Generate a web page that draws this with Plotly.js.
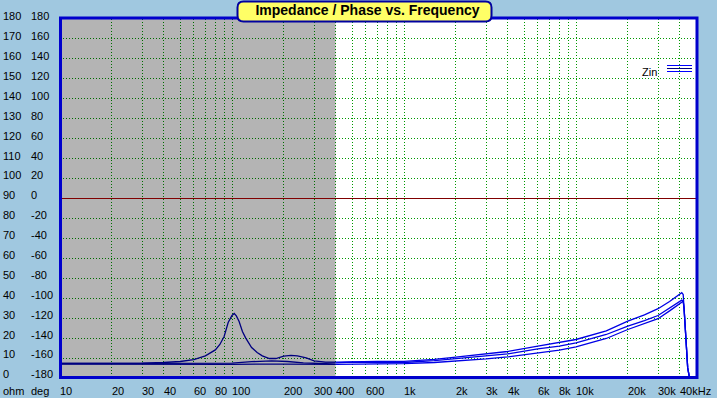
<!DOCTYPE html>
<html>
<head>
<meta charset="utf-8">
<script src="https://cdn.plot.ly/plotly-3.0.1.min.js"></script>
<style>html,body{margin:0;padding:0;background:#a0c8e0;}#chart{width:717px;height:398px;}</style>
</head>
<body>
<div id="chart"></div>
<script>
// ---- data ----
const freqT = [10,20,30,40,50,60,70,80,85,90,95,100,103,106,110,115,120,130,140,150,165,180,200,220,240,270,300,350,400,500,700,1000,1500,2000,3000,4000,6000,8000,10000,15000,20000,25000,30000,35000,40000,41200,42000,42500,43600,44600,45600];
const zinT  = [7.6,7.6,7.7,8.0,8.5,9.4,11.3,14.3,17.0,21.0,28.0,31.5,32.5,31.3,28.5,23.5,20.3,15.5,13.0,11.3,10.0,10.0,11.2,11.6,11.3,10.3,8.8,8.2,8.2,8.4,8.5,8.6,9.6,10.7,12.3,13.5,16.2,18.2,19.5,23.8,28.7,31.8,34.9,38.5,42.2,42.9,42.0,35.0,19.5,5.3,0.8];

const freqM = [10,30,50,80,100,130,170,210,260,330,400,500,700,1000,1500,2000,3000,4000,6000,8000,10000,15000,20000,25000,30000,35000,41200,42000,42500,43600,44600,45600];
const zinM  = [7.5,7.5,7.4,7.5,7.7,8.4,8.8,8.5,7.8,7.5,7.8,8.2,8.0,8.0,8.9,9.8,11.2,12.3,14.8,16.2,17.8,22.0,26.2,28.9,31.5,35.3,39.2,38.6,35.0,19.5,5.3,0.8];

const freqB = [10,30,40,100,200,300,400,500,700,1000,1500,2000,3000,4000,6000,8000,10000,15000,20000,25000,30000,35000,42000,42500,43600,44600,45600];
const zinB  = [7.2,7.0,6.9,7.1,7.2,7.0,7.1,7.2,7.3,7.4,8.0,8.7,9.8,10.8,12.8,14.2,15.8,20.0,24.5,27.3,29.9,33.8,38.7,35.0,19.5,5.3,0.8];

const gridFreqs = [20,30,40,50,60,70,80,90,100,200,300,400,500,600,700,800,900,1000,2000,3000,4000,5000,6000,7000,8000,9000,10000,20000,30000,40000];
const xLabelFreqs = [10,20,30,40,60,80,100,200,300,400,600,1000,2000,3000,4000,6000,8000,10000,20000,30000,40000];
const xLabelTexts = ['10','20','30','40','60','80','100','200','300','400','600','1k','2k','3k','4k','6k','8k','10k','20k','30k','40kHz'];
const ohmLabels = ['180','170','160','150','140','130','120','110','100','90','80','70','60','50','40','30','20','10','0'];
const degLabels = ['180','160','140','120','100','80','60','40','20','0','-20','-40','-60','-80','-100','-120','-140','-160','-180'];
const grayEnd = 400;   // shaded region 10 Hz .. 400 Hz
const zeroPhaseOhm = 90;

// ---- helpers (layout only) ----
const PL = 60, PR = 697, PT = 19, PB = 379;
const px = x => (x - PL) / (PR - PL);
const py = y => (PB - y) / (PB - PT);
const FONT = 'Liberation Sans, Arial, sans-serif';

function split(f, z, inGray) {
  const xs = [], ys = [];
  f.forEach((v, i) => { if (inGray ? v <= grayEnd : v >= grayEnd) { xs.push(v); ys.push(z[i]); } });
  return {x: xs, y: ys};
}
const traces = [];
[[freqB, zinB], [freqM, zinM], [freqT, zinT]].forEach(([f, z]) => {
  const g = split(f, z, true), w = split(f, z, false);
  traces.push({x: g.x, y: g.y, type: 'scatter', mode: 'lines', line: {color: '#0000b5', width: 1.3}, hoverinfo: 'skip', showlegend: false});
  traces.push({x: w.x, y: w.y, type: 'scatter', mode: 'lines', line: {color: '#0000e6', width: 1.3}, hoverinfo: 'skip', showlegend: false});
});

const annotations = [];
const lab = {family: FONT, size: 11, color: '#000'};
ohmLabels.forEach((t, i) => {
  const yy = py(16.3 + i * (374.3 - 16.3) / 18);
  annotations.push({xref: 'paper', yref: 'paper', x: px(2), y: yy, xanchor: 'left', yanchor: 'middle', text: t, showarrow: false, font: lab, borderpad: 0});
  annotations.push({xref: 'paper', yref: 'paper', x: px(30), y: yy, xanchor: 'left', yanchor: 'middle', text: degLabels[i], showarrow: false, font: lab, borderpad: 0});
});
const yLab = py(390.7);
annotations.push({xref: 'paper', yref: 'paper', x: px(2), y: yLab, xanchor: 'left', yanchor: 'middle', text: 'ohm', showarrow: false, font: lab, borderpad: 0});
annotations.push({xref: 'paper', yref: 'paper', x: px(30), y: yLab, xanchor: 'left', yanchor: 'middle', text: 'deg', showarrow: false, font: lab, borderpad: 0});
xLabelFreqs.forEach((f, i) => annotations.push({xref: 'x', yref: 'paper', x: Math.log10(f), xshift: -1, y: yLab, xanchor: 'left', yanchor: 'middle', text: xLabelTexts[i], showarrow: false, font: lab, borderpad: 0}));
annotations.push({xref: 'paper', yref: 'paper', x: px(641), y: py(71.5), xanchor: 'left', yanchor: 'middle', text: 'Zin', showarrow: false, font: lab, borderpad: 0});

// title box
const L = 237.5, R = 491.5, T = 1.5, B = 21.5, r = 6;
const P = (x, y) => px(x) + ',' + py(y);
const boxPath = 'M' + P(L + r, T) + ' L' + P(R - r, T) + ' Q' + P(R, T) + ' ' + P(R, T + r) +
  ' L' + P(R, B - r) + ' Q' + P(R, B) + ' ' + P(R - r, B) + ' L' + P(L + r, B) +
  ' Q' + P(L, B) + ' ' + P(L, B - r) + ' L' + P(L, T + r) + ' Q' + P(L, T) + ' ' + P(L + r, T) + ' Z';

const shapes = [
  {type: 'rect', xref: 'x', yref: 'paper', x0: 10, x1: grayEnd, y0: 0, y1: 1, fillcolor: 'rgba(0,0,0,0.294)', line: {width: 0}, layer: 'above'},
  {type: 'line', xref: 'paper', yref: 'y', x0: 0, x1: 1, y0: zeroPhaseOhm, y1: zeroPhaseOhm, line: {color: '#800000', width: 1}, layer: 'above'},
  {type: 'rect', xref: 'paper', yref: 'paper', x0: px(60.5), x1: px(697), y0: py(377.5), y1: py(18), line: {color: '#0000cc', width: 3}, fillcolor: 'rgba(0,0,0,0)', layer: 'above'},
  {type: 'path', xref: 'paper', yref: 'paper', path: boxPath, fillcolor: '#ffff66', line: {color: '#0000a0', width: 2}, layer: 'above'},
  {type: 'line', xref: 'paper', yref: 'paper', x0: px(667), x1: px(692), y0: py(65.5), y1: py(65.5), line: {color: '#0000ff', width: 1}, layer: 'above'},
  {type: 'line', xref: 'paper', yref: 'paper', x0: px(667), x1: px(692), y0: py(68.5), y1: py(68.5), line: {color: '#000080', width: 1}, layer: 'above'},
  {type: 'line', xref: 'paper', yref: 'paper', x0: px(667), x1: px(692), y0: py(71.5), y1: py(71.5), line: {color: '#0000ff', width: 1}, layer: 'above'}
];

const layout = {
  width: 717, height: 398,
  margin: {l: PL, r: 717 - PR, t: PT, b: 398 - PB, pad: 0},
  paper_bgcolor: '#a0c8e0', plot_bgcolor: '#ffffff',
  title: {text: 'Impedance / Phase vs. Frequency', font: {family: FONT, size: 14, color: '#000', weight: 'bold'},
          xref: 'container', yref: 'container', x: 367.5 / 717, xanchor: 'center', y: 1 - 10.5 / 398, yanchor: 'middle'},
  xaxis: {type: 'log', range: [1, 1 + (PR - PL) / 172], tickvals: gridFreqs, showticklabels: false, ticks: '',
          showgrid: true, gridcolor: '#009900', griddash: '1px,2px', gridwidth: 1, zeroline: false, showline: false, fixedrange: true},
  yaxis: {range: [-0.25, 179.75], tick0: 0, dtick: 10, showticklabels: false, ticks: '',
          showgrid: true, gridcolor: '#009900', griddash: '1px,2px', gridwidth: 1, zeroline: false, showline: false, fixedrange: true},
  shapes: shapes, annotations: annotations, showlegend: false, hovermode: false
};
Plotly.newPlot('chart', traces, layout, {staticPlot: true, displayModeBar: false});
</script>
</body>
</html>
